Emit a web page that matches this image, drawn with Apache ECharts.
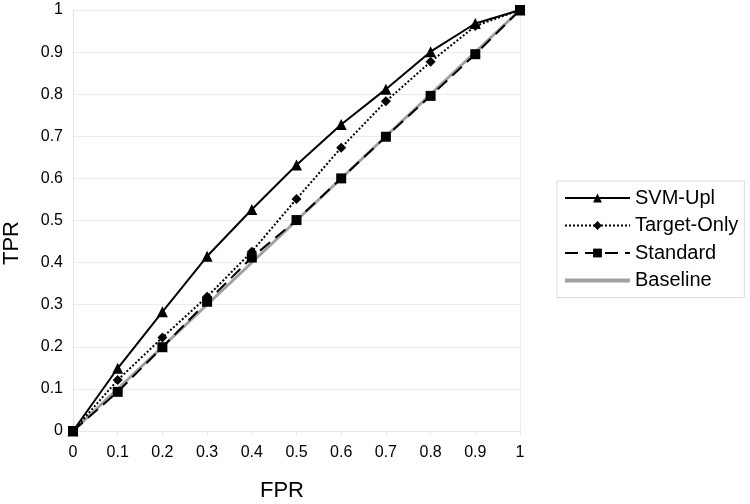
<!DOCTYPE html>
<html>
<head>
<meta charset="utf-8">
<script src="https://cdn.jsdelivr.net/npm/echarts@6/dist/echarts.min.js"></script>
<style>html,body{margin:0;padding:0;background:#fff}#c{width:750px;height:504px}</style>
</head>
<body>
<div id="c"></div>
<script>
const fpr = [0, 0.1, 0.2, 0.3, 0.4, 0.5, 0.6, 0.7, 0.8, 0.9, 1];
const svmUpl = [0, 0.149, 0.283, 0.415, 0.526, 0.632, 0.728, 0.812, 0.901, 0.968, 1];
const targetOnly = [0, 0.121, 0.222, 0.319, 0.426, 0.551, 0.673, 0.783, 0.877, 0.962, 1];
const standard = [0, 0.093, 0.199, 0.307, 0.412, 0.501, 0.600, 0.699, 0.796, 0.895, 1];
const baselineX = [0, 1];
const baselineY = [0, 1];
const seriesNames = ['SVM-Upl', 'Target-Only', 'Standard', 'Baseline'];

const pairs = (xs, ys) => xs.map((x, i) => [x, ys[i]]);
const font = 'Liberation Sans, Arial, sans-serif';

const chart = echarts.init(document.getElementById('c'), null, {renderer: 'canvas'});
chart.setOption({
  animation: false,
  backgroundColor: '#fff',
  grid: {left: 73, right: 230, top: 10, bottom: 73, show: false},
  xAxis: {
    type: 'value', min: 0, max: 1, interval: 0.1,
    axisLine: {show: true, lineStyle: {color: '#e6e6e6', width: 1}},
    axisTick: {show: true, length: 4, lineStyle: {color: '#e6e6e6'}},
    splitLine: {show: false},
    axisLabel: {color: '#000', fontSize: 16, fontFamily: font, margin: 14}
  },
  yAxis: {
    type: 'value', min: 0, max: 1, interval: 0.1,
    axisLine: {show: true, lineStyle: {color: '#e6e6e6', width: 1}},
    axisTick: {show: false},
    splitLine: {show: true, lineStyle: {color: '#ececec', width: 1}},
    axisLabel: {color: '#000', fontSize: 16, fontFamily: font, margin: 10}
  },
  graphic: [
    {type: 'line', shape: {x1: 520.5, y1: 10, x2: 520.5, y2: 431}, style: {stroke: '#ececec', lineWidth: 1}, silent: true},
    {type: 'text', left: 260, top: 480, style: {text: 'FPR', font: '22px ' + font, fill: '#000'}},
    {type: 'text', left: 1, top: 221, style: {text: 'TPR', font: '22px ' + font, fill: '#000'}, rotation: Math.PI / 2, originX: 0, originY: 0}
  ],
  legend: {
    orient: 'vertical',
    left: 557, top: 181,
    padding: [7, 6, 7, 6],
    itemWidth: 65, itemHeight: 11, itemGap: 7.5,
    borderColor: '#dcdcdc', borderWidth: 1,
    textStyle: {color: '#000', fontSize: 20, fontFamily: font},
    data: [
      {name: seriesNames[0]},
      {name: seriesNames[1]},
      {name: seriesNames[2]},
      {name: seriesNames[3], itemStyle: {opacity: 0}, lineStyle: {width: 4, color: '#a0a0a0'}}
    ]
  },
  series: [
    {name: 'SVM-Upl', type: 'line', data: pairs(fpr, svmUpl), z: 5,
     symbol: 'triangle', symbolSize: 11,
     lineStyle: {color: '#000', width: 2}, itemStyle: {color: '#000'}},
    {name: 'Target-Only', type: 'line', data: pairs(fpr, targetOnly), z: 4,
     symbol: 'diamond', symbolSize: 10,
     lineStyle: {color: '#000', width: 2, type: [2, 2]}, itemStyle: {color: '#000'}},
    {name: 'Standard', type: 'line', data: pairs(fpr, standard), z: 3,
     symbol: 'rect', symbolSize: 10,
     lineStyle: {color: '#000', width: 2, type: [13, 7]}, itemStyle: {color: '#000'}},
    {name: 'Baseline', type: 'line', data: pairs(baselineX, baselineY), z: 2,
     symbol: 'none', showSymbol: false,
     lineStyle: {color: '#a0a0a0', width: 3}, itemStyle: {color: '#a0a0a0'}}
  ]
});
</script>
</body>
</html>
